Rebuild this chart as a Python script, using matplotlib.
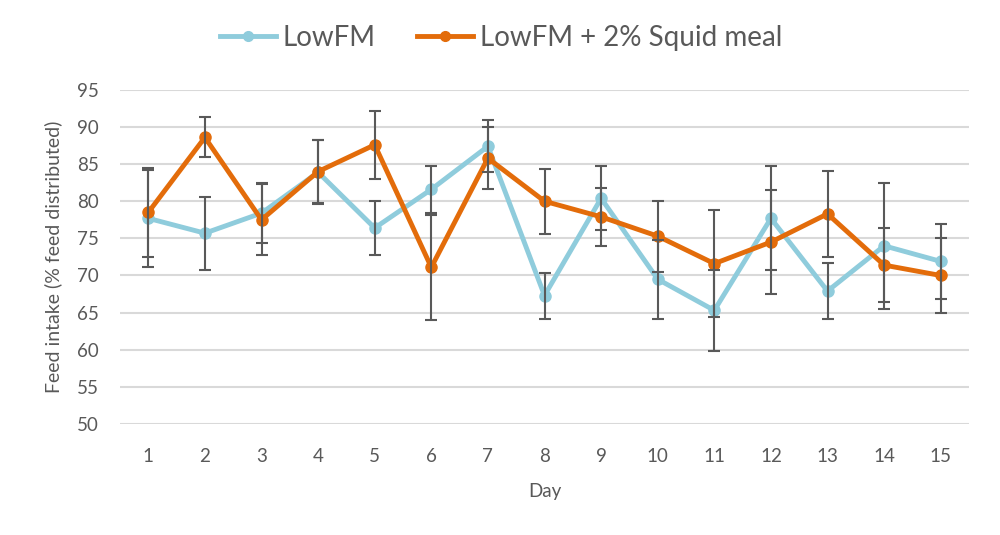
import matplotlib
matplotlib.use("Agg")
import matplotlib.pyplot as plt
import numpy as np

days = list(range(1, 16))
lowfm = [77.7, 75.7, 78.4, 83.9, 76.4, 81.6, 87.4, 67.3, 80.4, 69.5, 65.3, 77.7, 67.9, 74.0, 71.9]
lowfm_err = [6.5, 4.9, 4.0, 4.3, 3.6, 3.2, 3.5, 3.1, 4.3, 5.3, 5.5, 7.0, 3.8, 8.5, 5.0]
squid = [78.5, 88.6, 77.5, 84.0, 87.6, 71.1, 85.8, 80.0, 77.9, 75.3, 71.6, 74.5, 78.3, 71.4, 70.0]
squid_err = [6.0, 2.7, 4.8, 4.3, 4.6, 7.1, 4.2, 4.4, 3.9, 4.8, 7.2, 7.0, 5.8, 5.0, 5.0]
yticks = list(range(50, 100, 5))

plt.rcParams['font.family'] = ['Lato', 'DejaVu Sans']

fig = plt.figure(figsize=(10, 5.35), dpi=100)
ax = fig.add_axes([0.12, 0.2075, 0.849, 0.6245])

blue = '#8FCCDC'
orange = '#E36C0A'
grey = '#595959'

ax.plot(days, lowfm, color=blue, lw=3.5, marker='o', ms=8, zorder=3, label='LowFM')
ax.plot(days, squid, color=orange, lw=3.5, marker='o', ms=8, zorder=4, label='LowFM + 2% Squid meal')
ax.errorbar(days, lowfm, yerr=lowfm_err, fmt='none', ecolor=grey, elinewidth=1.5, capsize=4, capthick=1.5, zorder=5)
ax.errorbar(days, squid, yerr=squid_err, fmt='none', ecolor=grey, elinewidth=1.5, capsize=4, capthick=1.5, zorder=5)

ax.set_ylim(50, 95)
ax.set_xlim(0.5, 15.5)
ax.set_yticks(yticks)
ax.set_xticks(days)
ax.grid(axis='y', color='#D9D9D9', lw=1.5, zorder=0)
ax.set_axisbelow(True)
for s in ax.spines.values():
    s.set_visible(False)
ax.tick_params(axis='both', length=0, labelsize=13.5, labelcolor=grey)
ax.tick_params(axis='x', pad=17)
ax.tick_params(axis='y', pad=15)
ax.set_xlabel('Day', fontsize=13.5, color=grey, labelpad=13)
ax.set_ylabel('Feed intake (% feed distributed)', fontsize=14, color=grey, labelpad=11)

leg = fig.legend(loc='upper center', bbox_to_anchor=(0.501, 1.0), ncol=2, frameon=False,
                 fontsize=20, handlelength=2.0, columnspacing=1.5, handletextpad=0.25)
for t in leg.get_texts():
    t.set_color(grey)
for h in leg.get_lines():
    h.set_markersize(7)

fig.savefig('out.png', dpi=100)
